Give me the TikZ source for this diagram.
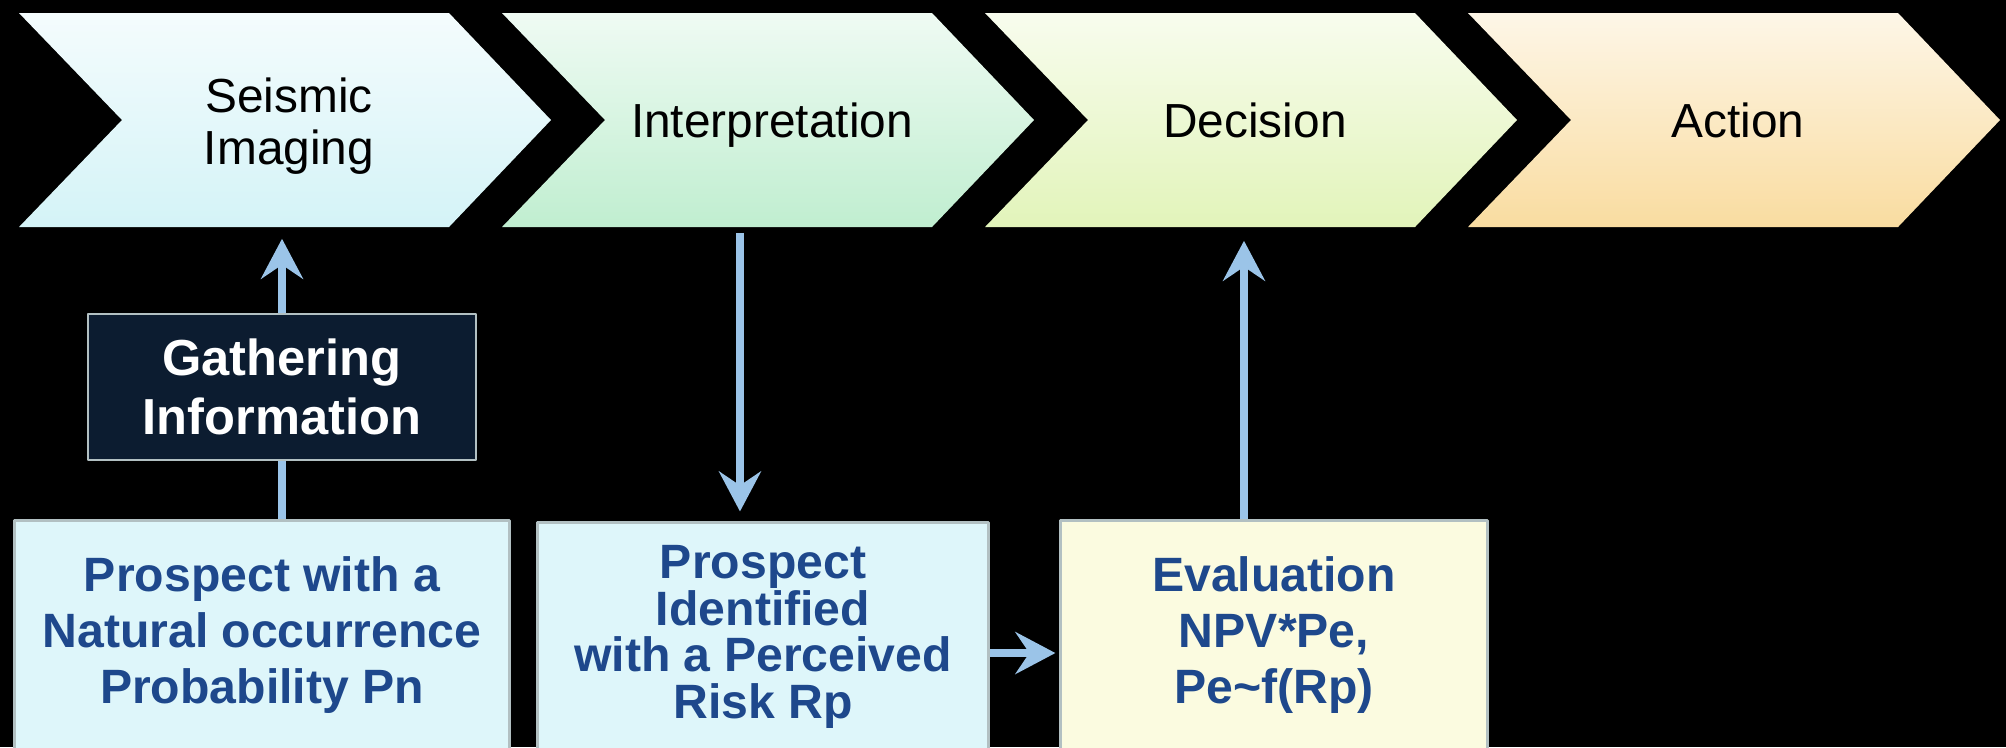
\documentclass[tikz,border=0pt]{standalone}
\usepackage{fontspec}
\setmainfont{Liberation Sans}
\usetikzlibrary{arrows.meta}
\definecolor{chevA}{RGB}{212,243,247}
\definecolor{chevB}{RGB}{192,238,208}
\definecolor{chevC}{RGB}{226,244,186}
\definecolor{chevD}{RGB}{249,220,160}
\definecolor{flowblue}{RGB}{155,196,232}
\definecolor{boxtext}{RGB}{30,72,140}
\definecolor{boxedge}{RGB}{178,192,194}
\definecolor{cyanbox}{RGB}{222,246,250}
\definecolor{creambox}{RGB}{251,251,224}
\definecolor{navybox}{RGB}{12,28,48}
\begin{document}
\begin{tikzpicture}[x=0.01cm,y=-0.01cm,line join=round,
	chev/.style={minimum width=4.3cm,minimum height=2.14cm,inner sep=0pt,align=center,
		font=\fontsize{13.6}{14.6}\selectfont},
	prosp/.style={draw=boxedge,line width=0.03cm,inner sep=0pt,align=center,
		minimum height=2.28cm,text=boxtext,font=\fontsize{13.7}{15.9}\selectfont\bfseries},
	gatherbox/.style={draw=boxedge,fill=navybox,line width=0.025cm,align=center,
		minimum width=3.88cm,minimum height=1.46cm,text=white,
		font=\fontsize{14.4}{16.6}\selectfont\bfseries},
	flow/.style={draw=flowblue,line width=0.08cm,
		-{Stealth[length=0.4cm,width=0.42cm,inset=0.14cm]}}]
	\path[use as bounding box,fill=black] (0,0) rectangle (2006,747);
	% chevrons
	\foreach \i/\nm/\col/\dy/\txt in {0/seis/chevA/6/{Seismic\\Imaging},1/interp/chevB/5/Interpretation,
		2/decis/chevC/0/Decision,3/act/chevD/0/Action}{
		\def\xo{19+483*\i}
		\shade[top color=\col!25!white,bottom color=\col] (\xo,13) -- ++(430,0) -- ++(102,107)
			-- ++(-102,107) -- ++(-430,0) -- ++(103,-107) -- cycle;
		\node[chev] (\nm) at (\xo+270,120+\dy) {\txt};
	}
	% boxes
	\node[prosp,fill=cyanbox,minimum width=4.94cm] (np) at (262,635)
		{Prospect with a\\Natural occurrence\\Probability Pn};
	\node[prosp,fill=cyanbox,minimum width=4.5cm,font=\fontsize{13.7}{13.2}\selectfont\bfseries] (pi) at (763,637)
		{Prospect\\Identified\\with a Perceived\\Risk Rp};
	\node[prosp,fill=creambox,minimum width=4.26cm] (ev) at (1274,635)
		{Evaluation\\NPV*Pe,\\Pe\char`\~f(Rp)};
	\node[gatherbox] (gi) at (282,387) {Gathering\\Information};
	% arrows
	\draw[flow,-] (gi.south |- np.north) -- (gi.south);
	\draw[flow,shorten >=0.05cm] (gi.north) -- (gi.north |- seis.south);
	\draw[flow,shorten >=0.1cm] ([xshift=-0.32cm]interp.south) -- ([xshift=-0.32cm]interp.south |- pi.north);
	\draw[flow,shorten >=0.13cm] ([xshift=-0.3cm]ev.north) -- ([xshift=-0.3cm]ev.north |- decis.south);
	\draw[flow,shorten >=0.04cm] ([yshift=-0.16cm]pi.east) -- ([yshift=-0.16cm]pi.east -| ev.west);
\end{tikzpicture}
\end{document}
